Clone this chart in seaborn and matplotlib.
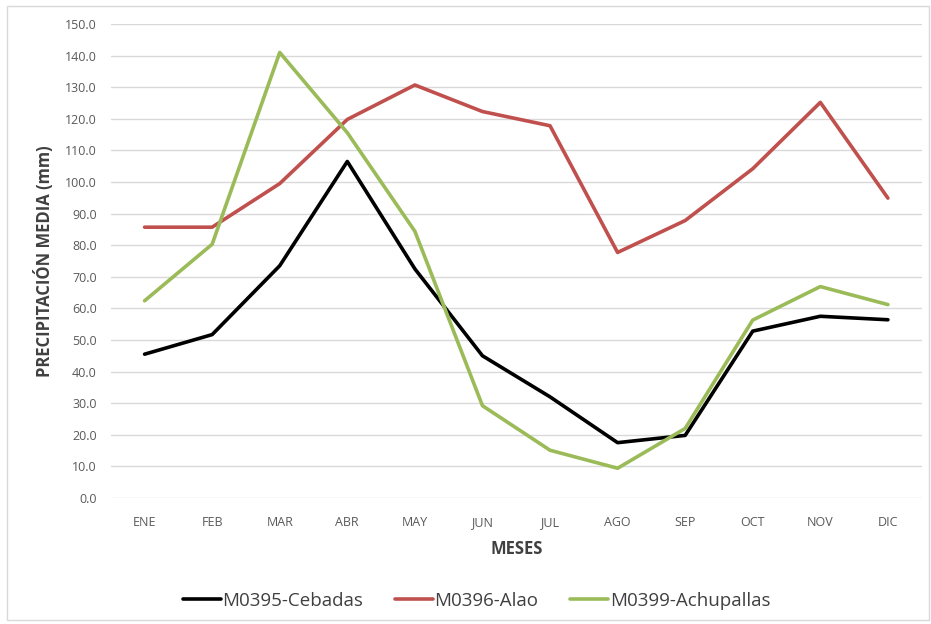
import matplotlib
matplotlib.use("Agg")
import matplotlib.pyplot as plt
import seaborn as sns
import pandas as pd
from matplotlib.patches import Rectangle

meses = ["ENE", "FEB", "MAR", "ABR", "MAY", "JUN", "JUL", "AGO", "SEP", "OCT", "NOV", "DIC"]
cebadas = [45.5, 51.7, 73.5, 106.5, 72.5, 45.0, 32.0, 17.5, 19.8, 52.8, 57.5, 56.4]
alao = [85.7, 85.7, 99.5, 119.8, 130.7, 122.3, 117.8, 77.7, 87.8, 104.2, 125.2, 94.9]
achupallas = [62.4, 80.3, 141.0, 115.6, 84.4, 29.2, 15.1, 9.4, 22.0, 56.3, 66.9, 61.2]
estaciones = ["M0395-Cebadas", "M0396-Alao", "M0399-Achupallas"]
colores = ["#000000", "#C0504D", "#9BBB59"]

df = pd.DataFrame({
    "Mes": meses * 3,
    "Precipitación": cebadas + alao + achupallas,
    "Estación": [e for e in estaciones for _ in meses],
})
df["pos"] = df["Mes"].map({m: i for i, m in enumerate(meses)})

sns.set_theme(style="white")
plt.rcParams["font.family"] = ["Open Sans", "DejaVu Sans"]

fig = plt.figure(figsize=(9.31, 6.24), dpi=100)
ax = fig.add_axes([0.119, 0.202, 0.871, 0.7595])

sns.lineplot(data=df, x="pos", y="Precipitación", hue="Estación",
             palette=colores, hue_order=estaciones, linewidth=2.6,
             legend=False, ax=ax, zorder=3)

ax.set_xlim(-0.5, len(meses) - 0.5)
ax.set_ylim(0, 150)
ax.set_xticks(range(len(meses)))
ax.set_xticklabels(meses)
ax.set_yticks(range(0, 151, 10))
ax.set_yticklabels([f"{v:.1f}" for v in range(0, 151, 10)])
ax.tick_params(axis="both", length=0, labelsize=9, colors="#595959")
ax.tick_params(axis="x", pad=13)
ax.tick_params(axis="y", pad=10)
ax.grid(axis="y", color="#D9D9D9", linewidth=1)
ax.set_axisbelow(True)
for s in ax.spines.values():
    s.set_visible(False)

ax.set_xlabel("MESES", fontsize=12, fontweight="bold", color="#404040", labelpad=8)
ax.set_ylabel("PRECIPITACIÓN MEDIA (mm)", fontsize=12, fontweight="bold",
              color="#404040", labelpad=8)

handles = [plt.Line2D([], [], color=c, linewidth=2.6) for c in colores]
fig.legend(handles, estaciones, loc="center", bbox_to_anchor=(0.512, 0.037),
           ncol=3, frameon=False, fontsize=13.5, handlelength=2.0,
           handletextpad=0.1, columnspacing=1.7, labelcolor="#404040")

fig.patches.append(Rectangle((0.008, 0.006), 0.99, 0.985, transform=fig.transFigure,
                             fill=False, edgecolor="#D9D9D9", linewidth=1))

fig.savefig("out.png", dpi=100, facecolor="white")
